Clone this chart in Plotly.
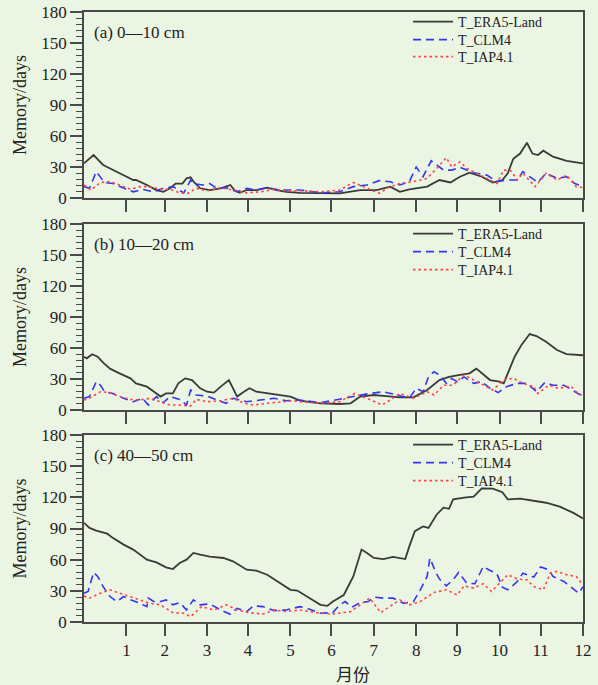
import plotly.graph_objects as go

# ---------------- data (x = day of year, y = memory in days) ----------------
month_end_days = [31, 59, 90, 120, 151, 181, 212, 243, 273, 304, 334, 365]
month_labels = ["1", "2", "3", "4", "5", "6", "7", "8", "9", "10", "11", "12"]
y_ticks = [0, 30, 60, 90, 120, 150, 180]
series_names = ["T_ERA5-Land", "T_CLM4", "T_IAP4.1"]
panel_labels = ["(a) 0\u201410 cm", "(b) 10\u201420 cm", "(c) 40\u201450 cm"]

a_era5_x = [0, 7, 14, 21, 29, 36, 38, 46, 53, 58, 63, 67, 72, 75, 78, 80, 85, 92, 100, 107, 110, 114, 119, 126, 134, 141, 148, 158, 173, 187, 202, 214, 224, 231, 238, 251, 260, 268, 275, 282, 291, 299, 306, 310, 314, 319, 324, 328, 332, 336, 343, 353, 365]
a_era5_y = [33.5, 41.6, 32, 27, 22, 17.4, 17.4, 12.6, 7.7, 6, 9.4, 14, 14, 19, 20, 16, 9.4, 7.7, 9.4, 12.6, 7.7, 5, 7.7, 7.7, 10, 7.7, 6, 5, 4.5, 4.5, 7.7, 7.7, 11, 6, 8.4, 11, 17.4, 15, 20.6, 24.5, 20.6, 15, 17.4, 24, 38, 43, 53.5, 43, 41.6, 45.8, 40, 36, 33.5]
a_clm4_x = [0, 4, 9, 12, 15, 21, 29, 36, 43, 51, 58, 65, 73, 78, 80, 87, 92, 97, 104, 112, 119, 126, 134, 143, 158, 173, 187, 197, 207, 216, 224, 231, 238, 243, 248, 254, 258, 263, 269, 275, 285, 295, 302, 309, 317, 321, 326, 332, 338, 346, 353, 359, 365]
a_clm4_y = [11, 9.4, 25.5, 20.6, 15, 14, 9.4, 6, 8.4, 6, 9.4, 11, 5, 17.4, 14, 12.6, 14, 9.4, 10, 6, 9.4, 7.7, 10, 7.7, 7.7, 5, 6, 11, 12.6, 16.8, 15.8, 12.6, 15.8, 30, 20.6, 36, 32, 27, 27, 29.7, 24.5, 22, 15.8, 17.4, 17.4, 25.5, 20.6, 15, 24, 19, 20.6, 14, 11]
a_iap_x = [0, 5, 12, 19, 26, 34, 41, 48, 56, 63, 70, 76, 82, 90, 100, 109, 119, 129, 139, 148, 158, 173, 187, 197, 207, 216, 224, 231, 241, 251, 258, 265, 269, 275, 280, 287, 295, 302, 307, 312, 317, 321, 330, 338, 346, 353, 360, 365]
a_iap_y = [12.6, 7.7, 15, 15.8, 12.6, 8.4, 11, 11, 8.4, 8.4, 5, 4.5, 9.4, 7, 10, 7.7, 5, 6, 8.4, 7, 7, 6, 7.7, 15, 9.4, 4.5, 11, 14, 15.8, 19, 28.7, 39, 30, 35, 28.7, 24, 19, 14, 27, 26.5, 17.4, 24, 11, 24, 17.4, 22, 11, 10]

b_era5_x = [0, 2, 6, 10, 14, 19, 26, 34, 38, 46, 53, 56, 60, 65, 69, 74, 79, 85, 90, 95, 100, 106, 109, 112, 117, 121, 126, 134, 143, 151, 158, 173, 187, 195, 202, 212, 221, 231, 241, 251, 260, 267, 275, 282, 287, 291, 297, 304, 307, 310, 315, 320, 326, 331, 338, 346, 353, 365]
b_era5_y = [51.6, 50, 54, 51.6, 45.8, 40, 35.5, 30.6, 25.8, 22.6, 16, 13, 16, 16, 25.8, 30.6, 29, 21, 17.7, 16.8, 22.6, 29, 21, 13, 17.7, 21, 17.7, 16, 14.5, 13, 9, 6.5, 5.8, 6.5, 13, 14.5, 13.5, 12.3, 12.3, 19.4, 29, 32, 34, 35.5, 40, 35.5, 29, 27.4, 25.8, 35.5, 51.6, 63, 73.5, 71.6, 66, 58, 54, 53]
b_clm4_x = [0, 4, 9, 12, 15, 21, 29, 36, 43, 47, 53, 58, 63, 70, 75, 78, 82, 90, 97, 104, 109, 119, 129, 139, 148, 158, 173, 185, 197, 209, 219, 229, 238, 243, 248, 252, 256, 260, 265, 269, 273, 278, 285, 291, 297, 303, 309, 317, 324, 331, 337, 343, 351, 357, 365]
b_clm4_y = [11.3, 13, 27.4, 24, 17.7, 16, 11.3, 8, 11.3, 4.8, 13, 7, 13, 10.3, 4.8, 19.4, 14.5, 13.5, 9.7, 6.5, 11.3, 8, 9.7, 11.3, 9, 9.7, 7, 9.7, 13, 16, 17.7, 14.5, 11.3, 21, 17.7, 32, 37, 34, 25.8, 30.6, 27.4, 32, 25.8, 27.4, 21, 16.8, 22.6, 25.8, 25.8, 17.7, 26.5, 24, 24, 19.4, 13]
b_iap_x = [0, 4, 12, 19, 26, 34, 41, 48, 56, 63, 70, 78, 82, 90, 100, 109, 117, 124, 134, 143, 153, 158, 173, 187, 198, 207, 218, 224, 231, 241, 251, 256, 263, 270, 278, 285, 292, 299, 307, 314, 321, 329, 332, 340, 347, 356, 360, 365]
b_iap_y = [9.7, 11.3, 17.7, 16.8, 13, 10.3, 9.7, 11.3, 8, 4.8, 4.8, 3.9, 10.3, 8, 9, 11.3, 6.5, 4.8, 6.5, 8, 9, 8, 6.5, 8, 16, 11.3, 4.8, 9.7, 16, 11.3, 17.7, 14.5, 24, 24, 34, 29, 24, 19.4, 29, 30.6, 25.8, 22.6, 16, 24, 21, 23.2, 17.7, 13.5]

c_era5_x = [0, 4, 9, 17, 21, 29, 36, 46, 53, 60, 65, 70, 75, 80, 85, 92, 102, 109, 119, 126, 134, 143, 151, 156, 160, 165, 173, 178, 182, 190, 197, 203, 207, 212, 219, 226, 235, 238, 242, 248, 252, 258, 263, 267, 270, 278, 285, 291, 299, 306, 310, 319, 329, 338, 348, 358, 365]
c_era5_y = [95.5, 90.6, 88, 85, 81, 74.5, 69.7, 60, 57.4, 52.6, 51, 56.8, 60, 66.5, 64.8, 63, 61.6, 58.4, 50.3, 49.4, 45.5, 37.4, 31, 30.3, 27, 23, 16.5, 15.5, 19.7, 26, 43.9, 69.7, 66.5, 61.6, 60.6, 62.6, 60.6, 73, 87.4, 92, 90.6, 103.5, 110, 109, 118, 119.7, 120.6, 128.7, 128.4, 125, 118, 118.7, 116.5, 114.8, 111, 105, 99.7]
c_clm4_x = [0, 3, 7, 10, 14, 19, 24, 29, 34, 41, 46, 47, 51, 56, 60, 65, 70, 75, 80, 85, 92, 100, 107, 112, 119, 124, 131, 139, 148, 158, 165, 173, 182, 187, 191, 196, 202, 208, 212, 219, 226, 234, 241, 246, 251, 253, 257, 260, 265, 270, 274, 280, 286, 292, 296, 302, 306, 310, 317, 321, 329, 334, 340, 343, 351, 357, 362, 365]
c_clm4_y = [27.7, 29.4, 47.7, 43.9, 34, 24.5, 19.7, 24.5, 21.3, 18, 14.8, 23, 19.7, 19.7, 21.3, 16.5, 18.7, 11.6, 21.3, 16.5, 17.4, 11.6, 7.4, 13.2, 10, 15.5, 14.8, 11, 11.6, 14.8, 12.3, 8.4, 9, 16.5, 19.7, 14.2, 18.7, 19.7, 23.9, 23, 23, 18, 19.7, 31, 43.9, 61.6, 48.7, 41.3, 34.8, 40.6, 47.7, 37.4, 36.8, 53.5, 50.3, 46.5, 33.5, 31, 39, 47, 43.2, 52.9, 50.3, 43.9, 39, 32.6, 27.7, 34]
c_iap_x = [0, 4, 12, 19, 26, 34, 41, 48, 56, 60, 65, 73, 78, 82, 86, 95, 104, 112, 121, 131, 139, 148, 158, 170, 182, 195, 202, 209, 217, 224, 231, 238, 246, 256, 265, 273, 278, 285, 292, 298, 304, 310, 317, 324, 329, 336, 341, 346, 353, 360, 365]
c_iap_y = [25, 23, 27.7, 31, 27.7, 24.5, 21.3, 18, 16.5, 13.2, 9, 8.4, 5.2, 10, 14.8, 11.6, 16.5, 11.6, 9, 7.7, 11.6, 10, 11.5, 9, 7.7, 10, 16.5, 23, 9, 14.8, 21.3, 16.5, 19.7, 28.4, 31, 26, 34.8, 32.6, 36.8, 29.4, 37.4, 45.5, 41.3, 40.6, 34.2, 31, 47, 48.7, 45.5, 43.9, 35.8]

panels = [
    [(a_era5_x, a_era5_y), (a_clm4_x, a_clm4_y), (a_iap_x, a_iap_y)],
    [(b_era5_x, b_era5_y), (b_clm4_x, b_clm4_y), (b_iap_x, b_iap_y)],
    [(c_era5_x, c_era5_y), (c_clm4_x, c_clm4_y), (c_iap_x, c_iap_y)],
]

# ---------------- styling ----------------
BG = "#EBF5E3"
AX = "#4a4a4a"
SERIF = "Liberation Serif, Times New Roman, serif"
line_styles = [
    dict(color="#3a3a3a", width=1.8, dash="solid"),
    dict(color="#3535f0", width=1.6, dash="8px,5px"),
    dict(color="#ff4545", width=1.6, dash="2.5px,3px"),
]

# pixel layout (figure 598 x 685)
W, H = 598, 685
ML, MR, MT, MB = 84, 15, 12, 63
plot_h = H - MT - MB
panel_px = [(12, 198), (224, 410), (435, 622)]  # (top, bottom) in px
legend_rows_px = [(22, 40, 57), (234, 252, 270), (445, 463, 481)]
legend_left_px = 408


def py(px):
    return (H - MB - px) / plot_h


fig = go.Figure()
layout = dict(
    width=W, height=H,
    margin=dict(l=ML, r=MR, t=MT, b=MB, autoexpand=False),
    paper_bgcolor=BG, plot_bgcolor=BG, showlegend=True,
    font=dict(family=SERIF, size=17, color="#222"),
    annotations=[],
)

leg_idx = 0
for p in range(3):
    xa = "x" if p == 0 else f"x{p + 1}"
    ya = "y" if p == 0 else f"y{p + 1}"
    for s in range(3):
        xs, ys = panels[p][s]
        leg_idx += 1
        lname = "legend" if leg_idx == 1 else f"legend{leg_idx}"
        fig.add_trace(go.Scatter(
            x=xs, y=ys, mode="lines", name=series_names[s], showlegend=True,
            line=line_styles[s], xaxis=xa, yaxis=ya, legend=lname,
        ))
        layout[lname] = dict(
            x=(legend_left_px - ML) / (W - ML - MR), xanchor="left",
            y=py(legend_rows_px[p][s]), yanchor="middle",
            bgcolor="rgba(0,0,0,0)", borderwidth=0, itemwidth=40,
            font=dict(family=SERIF, size=14, color="#222"),
        )

    top, bot = panel_px[p]
    dom = [py(bot), py(top)]
    xkey = "xaxis" if p == 0 else f"xaxis{p + 1}"
    ykey = "yaxis" if p == 0 else f"yaxis{p + 1}"
    layout[xkey] = dict(
        domain=[0, 1], anchor=ya, range=[0, 365], automargin=False,
        tickmode="array", tickvals=month_end_days, ticktext=month_labels,
        showticklabels=(p == 2), ticks="outside", ticklen=12, tickwidth=1.5,
        tickcolor=AX, showline=True, linecolor=AX, linewidth=1.6, mirror=True,
        showgrid=False, zeroline=False,
        tickfont=dict(family=SERIF, size=17, color="#222"),
    )
    layout[ykey] = dict(
        domain=dom, anchor=xa, range=[0, 180], automargin=False,
        tickmode="array", tickvals=y_ticks,
        ticks="outside", ticklen=12, tickwidth=1.5, tickcolor=AX,
        minor=dict(dtick=6, ticks="outside", ticklen=6, tickwidth=1.2, tickcolor=AX),
        showline=True, linecolor=AX, linewidth=1.6, mirror=True,
        showgrid=False, zeroline=False,
        tickfont=dict(family=SERIF, size=17, color="#222"),
        title=dict(text="Memory/days", font=dict(family=SERIF, size=18, color="#222"), standoff=10),
    )
    # small top ticks
    tkey = f"xaxis{p + 4}"
    layout[tkey] = dict(
        overlaying=xa, side="top", anchor=ya, range=[0, 365], automargin=False,
        tickmode="array", tickvals=month_end_days, showticklabels=False,
        ticks="outside", ticklen=3, tickwidth=1.2, tickcolor=AX,
        showline=False, showgrid=False, zeroline=False,
    )
    layout["annotations"].append(dict(
        text=panel_labels[p], xref=f"{xa} domain", yref=f"{ya} domain",
        x=0.016, y=0.89, xanchor="left", yanchor="middle", showarrow=False,
        font=dict(family=SERIF, size=17, color="#222"),
    ))

layout["annotations"].append(dict(
    text="月份", xref="paper", yref="paper",
    x=(353 - ML) / (W - ML - MR), y=py(673), xanchor="center", yanchor="middle",
    showarrow=False, font=dict(family="Noto Sans CJK SC", size=17, color="#222"),
))

fig.update_layout(**layout)
fig.write_html("out.html")
